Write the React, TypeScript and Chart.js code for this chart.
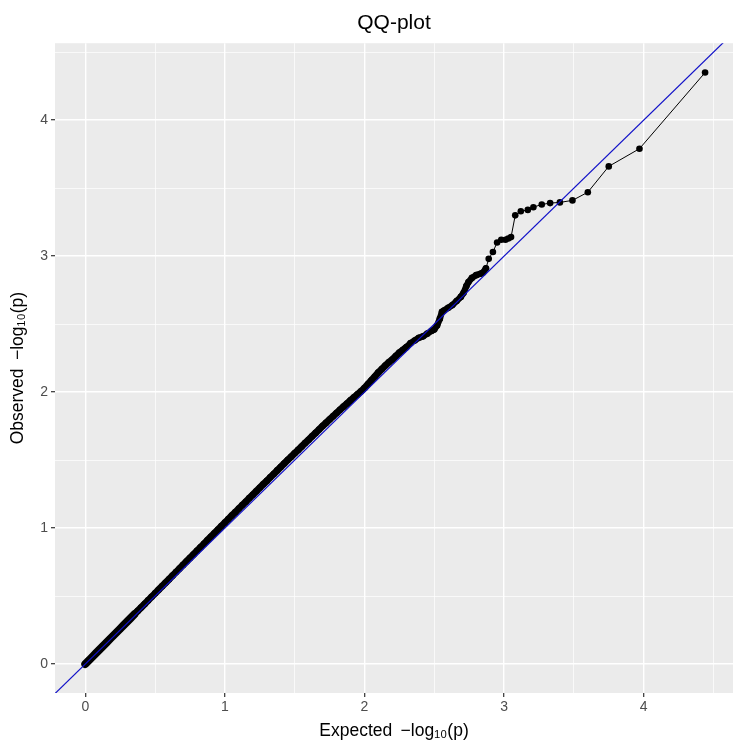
import { useEffect, useRef } from "react";
import { Chart, registerables } from "chart.js";

Chart.register(...registerables);

// Expected -log10(p) (x) and observed -log10(p) (y)
const expected = [
  0.0, 0.025, 0.05, 0.075, 0.1, 0.125, 0.15, 0.175, 0.2, 0.225, 0.25, 0.275, 0.3, 0.325, 0.35, 0.375,
  0.4, 0.425, 0.45, 0.475, 0.5, 0.525, 0.55, 0.575, 0.6, 0.625, 0.65, 0.675, 0.7, 0.725, 0.75, 0.775,
  0.8, 0.825, 0.85, 0.875, 0.9, 0.925, 0.95, 0.975, 1.0, 1.025, 1.05, 1.075, 1.1, 1.125, 1.15, 1.175,
  1.2, 1.225, 1.25, 1.275, 1.3, 1.325, 1.35, 1.375, 1.4, 1.425, 1.45, 1.475, 1.5, 1.525, 1.55, 1.575,
  1.6, 1.625, 1.65, 1.675, 1.7, 1.725, 1.75, 1.775, 1.8, 1.825, 1.85, 1.875, 1.9, 1.925, 1.95, 1.975,
  2.0, 2.025, 2.05, 2.075, 2.1, 2.125, 2.15, 2.175, 2.2, 2.225, 2.25, 2.275, 2.3,
  2.33, 2.36, 2.39, 2.42, 2.45, 2.48, 2.5, 2.52, 2.54, 2.555, 2.57, 2.6, 2.63, 2.66, 2.69, 2.71,
  2.73, 2.745, 2.77, 2.8, 2.83, 2.85, 2.87,
  2.89, 2.92, 2.95, 2.98, 3.01, 3.03, 3.05, 3.08, 3.12, 3.17, 3.21, 3.27,
  3.33, 3.4, 3.49, 3.6, 3.75, 3.97, 4.44,
];
const observed = [
  0.0, 0.026, 0.052, 0.078, 0.104, 0.13, 0.156, 0.182, 0.208, 0.234, 0.26, 0.286, 0.312, 0.338, 0.364, 0.39,
  0.416, 0.442, 0.468, 0.494, 0.52, 0.546, 0.572, 0.598, 0.624, 0.65, 0.676, 0.702, 0.728, 0.754, 0.78, 0.806,
  0.832, 0.858, 0.884, 0.91, 0.936, 0.962, 0.988, 1.014, 1.04, 1.066, 1.092, 1.117, 1.143, 1.169, 1.194, 1.22,
  1.245, 1.271, 1.296, 1.322, 1.347, 1.373, 1.398, 1.424, 1.449, 1.475, 1.5, 1.525, 1.55, 1.575, 1.6, 1.625,
  1.65, 1.675, 1.7, 1.725, 1.75, 1.774, 1.798, 1.822, 1.846, 1.87, 1.893, 1.916, 1.939, 1.961, 1.983, 2.005,
  2.03, 2.058, 2.087, 2.115, 2.145, 2.17, 2.195, 2.22, 2.24, 2.265, 2.29, 2.31, 2.33,
  2.36, 2.38, 2.4, 2.41, 2.43, 2.45, 2.46, 2.49, 2.54, 2.59, 2.6, 2.62, 2.64, 2.67, 2.7, 2.73,
  2.78, 2.81, 2.84, 2.86, 2.87, 2.88, 2.91,
  2.98, 3.03, 3.1, 3.12, 3.12, 3.13, 3.14, 3.3, 3.33, 3.34, 3.36, 3.38,
  3.39, 3.395, 3.41, 3.47, 3.66, 3.79, 4.35,
];
// reference line y = x, drawn across the panel
const refLine = [-1, 6];
// where the markers overlap into one solid band
const denseUntil = 2.875;

const isMajor = (v: number) => Math.abs(v - Math.round(v)) < 1e-6;

const panelBg = {
  id: "panelBg",
  beforeDraw(chart: any) {
    const { ctx, chartArea } = chart;
    ctx.save();
    ctx.fillStyle = "#EBEBEB";
    ctx.fillRect(chartArea.left, chartArea.top, chartArea.right - chartArea.left, chartArea.bottom - chartArea.top);
    ctx.restore();
  },
};

export default function App() {
  const ref = useRef<HTMLCanvasElement | null>(null);
  useEffect(() => {
    if (!ref.current) return;
    const font = "'Liberation Sans', Arial, sans-serif";
    const gridOpts = {
      color: "#FFFFFF",
      lineWidth: (c: any) => (c.tick && isMajor(c.tick.value) ? 1.4 : 0.7),
      tickColor: (c: any) => (c.tick && isMajor(c.tick.value) ? "#333333" : "rgba(0,0,0,0)"),
      tickWidth: 1.2,
      tickLength: 4,
    };
    const chart = new Chart(ref.current, {
      type: "scatter",
      data: {
        datasets: [
          {
            data: refLine.map((v) => ({ x: v, y: v })),
            showLine: true,
            borderColor: "#1010C8",
            borderWidth: 1.2,
            pointRadius: 0,
          },
          {
            data: expected.map((x, i) => ({ x, y: observed[i] })),
            showLine: true,
            borderColor: "#000000",
            borderWidth: 1,
            borderJoinStyle: "round",
            borderCapStyle: "round",
            segment: {
              borderWidth: (c: any) =>
                c.p1.parsed.x <= 0.35 ? 8 : c.p1.parsed.x <= 2.3 ? 7 : c.p1.parsed.x <= denseUntil ? 6.4 : 1,
            },
            pointRadius: 3.3,
            pointBackgroundColor: "#000000",
            pointBorderWidth: 0,
          },
        ],
      },
      options: {
        animation: false,
        responsive: false,
        events: [],
        layout: { padding: 0 },
        plugins: {
          legend: { display: false },
          tooltip: { enabled: false },
          title: {
            display: true,
            text: "QQ-plot",
            fullSize: false,
            color: "#000000",
            font: { family: font, size: 21, weight: "normal" },
            padding: { top: 11, bottom: 7 },
          },
        },
        scales: {
          x: {
            type: "linear",
            min: -0.217,
            max: 4.64,
            border: { display: false },
            grid: gridOpts,
            ticks: {
              stepSize: 0.5,
              includeBounds: false,
              autoSkip: false,
              maxRotation: 0,
              padding: 2,
              color: "#4D4D4D",
              font: { family: font, size: 14 },
              callback: (v: any) => (isMajor(Number(v)) ? String(Math.round(Number(v))) : ""),
            },
            title: {
              display: true,
              text: "Expected \u2009\u2212log\u2081\u2080(p)",
              color: "#000000",
              font: { family: font, size: 17.5 },
              padding: { top: 0, bottom: 3 },
            },
            afterFit: (s: any) => {
              s.height = 52;
            },
          },
          y: {
            type: "linear",
            min: -0.213,
            max: 4.566,
            border: { display: false },
            grid: gridOpts,
            ticks: {
              stepSize: 0.5,
              includeBounds: false,
              autoSkip: false,
              padding: 3,
              color: "#4D4D4D",
              font: { family: font, size: 14 },
              callback: (v: any) => (isMajor(Number(v)) ? String(Math.round(Number(v))) : ""),
            },
            title: {
              display: true,
              text: "Observed \u2009\u2212log\u2081\u2080(p)",
              color: "#000000",
              font: { family: font, size: 17.5 },
              padding: { top: 8, bottom: 0 },
            },
            afterFit: (s: any) => {
              s.width = 55;
            },
          },
        },
      },
      plugins: [panelBg],
    } as any);
    return () => chart.destroy();
  }, []);
  return (
    <div style={{ position: "fixed", left: 0, top: 0, width: 737, height: 745, background: "#FFFFFF" }}>
      <canvas ref={ref} width={737} height={745} style={{ display: "block" }} />
    </div>
  );
}
